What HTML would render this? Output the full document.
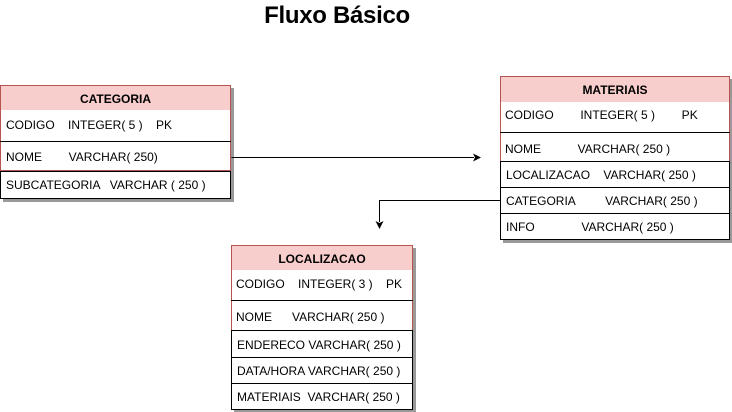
<!DOCTYPE html>
<html><head><meta charset="utf-8"><style>
body{margin:0;width:732px;height:412px;background:#fff;position:relative;overflow:hidden;font-family:"Liberation Sans",sans-serif;font-size:12px;color:#000}
.a{position:absolute;box-sizing:border-box}
.h{background:#f8cecc;border:1px solid #b85450;font-weight:bold;text-align:center}
.r{border:1px solid #000;background:#fff;white-space:pre;padding-left:5px}
.rr{border:1px solid #b85450;background:#fff;white-space:pre;padding-left:5px}
.sh{box-shadow:3px 3px 0 #999}
</style></head><body>
<div class="a" style="left:0;top:2px;width:678px;text-align:center;font-size:24px;font-weight:bold;letter-spacing:-0.3px;padding-right:4px">Fluxo Básico</div>

<!-- CATEGORIA -->
<div class="a sh" style="left:0;top:85px;width:231px;height:114px;background:#fff"></div>
<div class="a h" style="left:0;top:85px;width:231px;height:26px;line-height:26px">CATEGORIA</div>
<div class="a rr" style="left:0;top:110px;width:231px;height:61px;border-top:none"></div>
<div class="a" style="left:6px;top:110px;line-height:30px;white-space:pre">CODIGO    INTEGER( 5 )    PK</div>
<div class="a" style="left:0;top:141px;width:231px;height:1px;background:#000"></div>
<div class="a" style="left:6px;top:142px;line-height:30px;white-space:pre">NOME        VARCHAR( 250)</div>
<div class="a r" style="left:0;top:171px;width:231px;height:28px;line-height:26px">SUBCATEGORIA   VARCHAR ( 250 )</div>

<!-- MATERIAIS -->
<div class="a sh" style="left:500px;top:76px;width:230px;height:164px;background:#fff"></div>
<div class="a h" style="left:500px;top:76px;width:230px;height:27px;line-height:27px">MATERIAIS</div>
<div class="a rr" style="left:500px;top:102px;width:230px;height:60px;border-top:none"></div>
<div class="a" style="left:505px;top:102px;line-height:27px;white-space:pre">CODIGO        INTEGER( 5 )        PK</div>
<div class="a" style="left:500px;top:132px;width:230px;height:1px;background:#000"></div>
<div class="a" style="left:505px;top:134px;line-height:30px;white-space:pre">NOME           VARCHAR( 250 )</div>
<div class="a r" style="left:500px;top:161px;width:230px;height:27px;line-height:27px">LOCALIZACAO    VARCHAR( 250 )</div>
<div class="a r" style="left:500px;top:187px;width:230px;height:27px;line-height:27px">CATEGORIA         VARCHAR( 250 )</div>
<div class="a r" style="left:500px;top:213px;width:230px;height:27px;line-height:27px">INFO              VARCHAR( 250 )</div>

<!-- LOCALIZACAO -->
<div class="a sh" style="left:231px;top:245px;width:182px;height:165px;background:#fff"></div>
<div class="a h" style="left:231px;top:245px;width:182px;height:26px;line-height:26px">LOCALIZACAO</div>
<div class="a rr" style="left:231px;top:270px;width:182px;height:61px;border-top:none"></div>
<div class="a" style="left:236px;top:270px;line-height:28px;white-space:pre">CODIGO    INTEGER( 3 )    PK</div>
<div class="a" style="left:231px;top:300px;width:182px;height:1px;background:#000"></div>
<div class="a" style="left:236px;top:302px;line-height:30px;white-space:pre">NOME      VARCHAR( 250 )</div>
<div class="a r" style="left:231px;top:330px;width:182px;height:28px;line-height:28px">ENDERECO VARCHAR( 250 )</div>
<div class="a r" style="left:231px;top:357px;width:182px;height:27px;line-height:27px">DATA/HORA VARCHAR( 250 )</div>
<div class="a r" style="left:231px;top:383px;width:182px;height:27px;line-height:27px">MATERIAIS  VARCHAR( 250 )</div>

<svg class="a" style="left:0;top:0" width="732" height="412">
<path d="M231.5 157.5H474" stroke="#000" fill="none"/>
<path d="M481 157.5L473 153.5L475 157.5L473 161.5Z" fill="#000"/>
<path d="M500 200.5H379.5V222" stroke="#000" fill="none"/>
<path d="M379.5 229L375.5 221L379.5 223L383.5 221Z" fill="#000"/>
</svg>
</body></html>
